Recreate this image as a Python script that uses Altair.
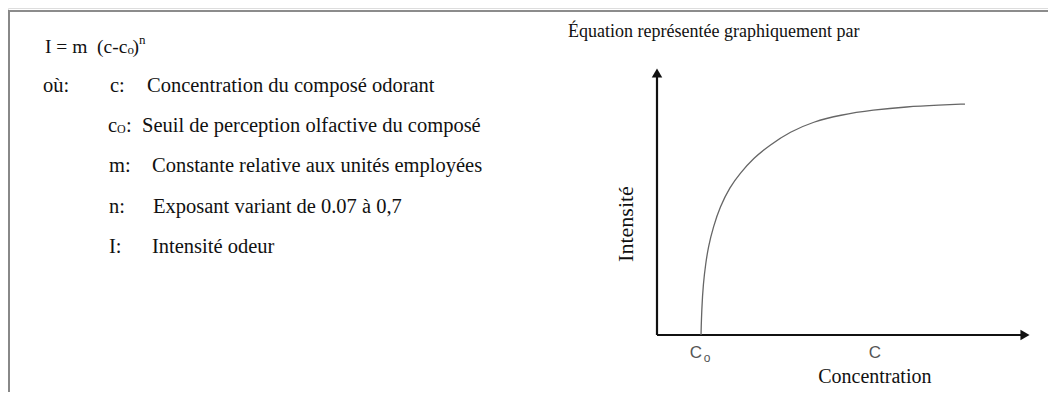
import altair as alt
import pandas as pd

# ---------------- data ----------------
conc = [11.80, 11.98, 12.41, 13.06, 13.75, 15.09, 16.89, 19.57, 22.25, 25.82,
        30.29, 35.66, 41.91, 49.06, 57.99, 66.94, 75.87, 82.57]
inten = [0, 9.4, 19.4, 26.8, 33.0, 40.5, 48.0, 55.5, 60.5, 66.2,
         71.2, 76.1, 79.9, 82.4, 84.3, 85.5, 86.1, 86.5]
c0 = 11.8
c_mark = 58.4
x_end = 100
y_end = 100

eq_parts = ["I = m", "(c-c", "o", ")", "n"]
intro = "où:"
def_keys = ["c:", "c", "m:", "n:", "I:"]
def_texts = [
    "Concentration du composé odorant",
    "Seuil de perception olfactive du composé",
    "Constante relative aux unités employées",
    "Exposant variant de 0.07 à 0,7",
    "Intensité odeur",
]
title_text = "Équation représentée graphiquement par"
x_title = "Concentration"
y_title = "Intensité"
tick_main = ["C", "C"]
tick_sub = "o"

# ---------------- layout ----------------
W, H = 1040, 384
SERIF = "Liberation Serif"
SANS = "Liberation Sans"
FS = 20.5
xs = alt.Scale(domain=[-173.995, 104.826], nice=False, zero=False)
ys = alt.Scale(domain=[-21.348, 122.47], nice=False, zero=False)

base = alt.Chart(pd.DataFrame({"d": [0]}))

layers = []

# frame (top and left edges of the scanned box)
layers.append(base.mark_rule(color="#666", strokeWidth=1.6).encode(
    x=alt.value(0), x2=alt.value(W), y=alt.value(3)))
layers.append(base.mark_rule(color="#888", strokeWidth=2).encode(
    x=alt.value(1), y=alt.value(3), y2=alt.value(H)))

def txt(s, x, y, size=FS, font=SERIF, color="#111", align="left", angle=None):
    kw = dict(text=s, font=font, fontSize=size, color=color, align=align, baseline="middle")
    if angle is not None:
        kw["angle"] = angle
    return base.mark_text(**kw).encode(x=alt.value(x), y=alt.value(y))

# equation
layers.append(txt(eq_parts[0], 37, 38.5, size=19.5))
layers.append(txt(eq_parts[1], 89, 38.5, size=19.5))
layers.append(txt(eq_parts[2], 119.5, 42, size=13))
layers.append(txt(eq_parts[3], 124.5, 38.5, size=19.5))
layers.append(txt(eq_parts[4], 131, 32, size=13))

# definitions
row_y = [78, 118, 158, 199, 239]
key_x = [102, 100, 101, 101, 101]
def_x = [139, 134, 144, 145, 144]
layers.append(txt(intro, 35, row_y[0]))
for i, (k, d) in enumerate(zip(def_keys, def_texts)):
    layers.append(txt(k, key_x[i], row_y[i]))
    layers.append(txt(d, def_x[i], row_y[i]))
# c_O key: subscript and colon
layers.append(txt("O", 109, row_y[1] + 3, size=12))
layers.append(txt(":", 118, row_y[1]))

# right title
layers.append(txt(title_text, 560, 24, size=18))

# axes of the sketch
axes_df = pd.DataFrame({"x": [0, 0], "y": [0, 0], "x2": [x_end - 1.3, 0], "y2": [0, y_end - 1.9]})
layers.append(alt.Chart(axes_df).mark_rule(color="#111", strokeWidth=2.2).encode(
    x=alt.X("x:Q", scale=xs, axis=None), y=alt.Y("y:Q", scale=ys, axis=None),
    x2="x2:Q", y2="y2:Q"))
arrow_df = pd.DataFrame({"x": [x_end - 1.34, 0], "y": [0, y_end - 1.87],
                         "s": ["triangle-right", "triangle-up"]})
layers.append(alt.Chart(arrow_df).mark_point(filled=True, size=110, opacity=1, color="#111").encode(
    x=alt.X("x:Q", scale=xs), y=alt.Y("y:Q", scale=ys),
    shape=alt.Shape("s:N", scale=alt.Scale(domain=["triangle-right", "triangle-up"],
                                           range=["triangle-right", "triangle-up"]), legend=None)))

# curve
curve_df = pd.DataFrame({"c": conc, "i": inten})
layers.append(alt.Chart(curve_df).mark_line(color="#666", strokeWidth=1.3, interpolate="basis").encode(
    x=alt.X("c:Q", scale=xs), y=alt.Y("i:Q", scale=ys)))

# tick labels
t0_df = pd.DataFrame({"x": [c0], "y": [0], "t": [tick_main[0]]})
layers.append(alt.Chart(t0_df).mark_text(font=SANS, fontSize=17, color="#555", dy=18, dx=-5,
                                         baseline="middle").encode(
    x=alt.X("x:Q", scale=xs), y=alt.Y("y:Q", scale=ys), text="t:N"))
t1_df = pd.DataFrame({"x": [c_mark], "y": [0], "t": [tick_main[1]]})
layers.append(alt.Chart(t1_df).mark_text(font=SANS, fontSize=17, color="#555", dy=18,
                                         baseline="middle").encode(
    x=alt.X("x:Q", scale=xs), y=alt.Y("y:Q", scale=ys), text="t:N"))
sub_df = pd.DataFrame({"x": [c0], "y": [0], "t": [tick_sub]})
layers.append(alt.Chart(sub_df).mark_text(font=SANS, fontSize=12, color="#555", dx=6, dy=23,
                                          baseline="middle").encode(
    x=alt.X("x:Q", scale=xs), y=alt.Y("y:Q", scale=ys), text="t:N"))

# axis titles
xt_df = pd.DataFrame({"x": [c_mark], "y": [0], "t": [x_title]})
layers.append(alt.Chart(xt_df).mark_text(font=SERIF, fontSize=20, color="#111", dy=42,
                                         baseline="middle").encode(
    x=alt.X("x:Q", scale=xs), y=alt.Y("y:Q", scale=ys), text="t:N"))
layers.append(txt(y_title, 618, 216, size=22, align="center", angle=270))

chart = alt.layer(*layers).properties(
    width=W, height=H, padding=0, autosize=alt.AutoSizeParams(type="none")
).configure_view(stroke=None).configure(background="white")

chart.save("out.html", embed_options={"renderer": "svg", "actions": False})
